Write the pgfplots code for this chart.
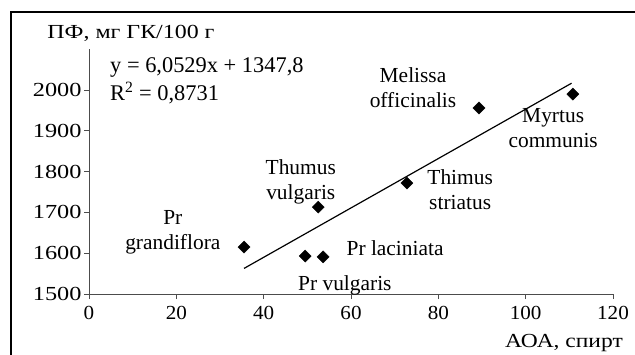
\documentclass[border=0pt]{standalone}
\usepackage{fontspec}
\setmainfont{Liberation Serif}
\usepackage{graphicx}
\usepackage{pgfplots}
\pgfplotsset{compat=1.18}
\begin{document}
\begin{tikzpicture}[x=1bp,y=1bp]
\useasboundingbox (0,0) rectangle (635,354);
\fill[white] (0,0) rectangle (635,354);
\draw[line width=2bp] (11,-5) -- (11,342) -- (640,342);
\begin{axis}[
  at={(89bp,60bp)}, anchor=south west,
  scale only axis, width=524bp, height=244.8bp,
  xmin=0, xmax=120, ymin=1500, ymax=2100,
  axis lines=left,
  axis line style={-, draw=black!70, line width=1pt},
  xtick={0,20,...,120}, ytick={1500,1600,...,2000},
  tick align=outside, major tick length=5bp,
  tick style={black!70, line width=0.8pt},
  ticklabel style={font=\fontsize{20}{20}\selectfont},
  xticklabel style={yshift=-4bp},
  yticklabel style={xshift=1bp},
  xticklabel={\scalebox{1.06}[1]{\pgfmathprintnumber{\tick}}},
  yticklabel={\scalebox{1.22}[1]{\pgfmathprintnumber{\tick}}},
  /pgf/number format/assume math mode=true,
  /pgf/number format/1000 sep={},
  clip=false,
]
\addplot[only marks, mark=square*, mark size=4.3, mark options={rotate=45, fill=black, draw=black}]
  coordinates {(35.5,1615) (49.5,1593) (53.6,1591) (52.5,1713) (72.8,1772) (89.3,1956) (110.8,1990)};
\addplot[black, line width=1.2pt] coordinates {(35.5,1562.7) (110.5,2016.6)};
\begin{scope}[every node/.style={font=\fontsize{21.5}{25}\selectfont, align=center, inner sep=0pt}]
\node at (axis cs:19.2,1652) {Pr\\grandiflora};
\node at (axis cs:58.6,1522) {Pr vulgaris};
\node at (axis cs:70.1,1613) {Pr laciniata};
\node at (axis cs:48.5,1775) {Thumus\\vulgaris};
\node at (axis cs:85.0,1755) {Thimus\\striatus};
\node at (axis cs:74.2,2005) {Melissa\\officinalis};
\node at (axis cs:106.3,1907) {Myrtus\\communis};
\end{scope}
\end{axis}
\node[anchor=west, inner sep=0pt, font=\fontsize{22.5}{22.5}\selectfont] at (110,287) {y = 6,0529x + 1347,8};
\node[anchor=west, inner sep=0pt, font=\fontsize{22.5}{22.5}\selectfont] at (110,261) {R\textsuperscript{2} = 0,8731};
\node[inner sep=0pt, font=\fontsize{20}{20}\selectfont] at (131,321) {\scalebox{1.2}[1]{ПФ, мг ГК/100 г}};
\node[anchor=east, inner sep=0pt, font=\fontsize{20}{20}\selectfont] at (623,11) {\scalebox{1.18}[1]{АОА, спирт}};
\end{tikzpicture}
\end{document}
